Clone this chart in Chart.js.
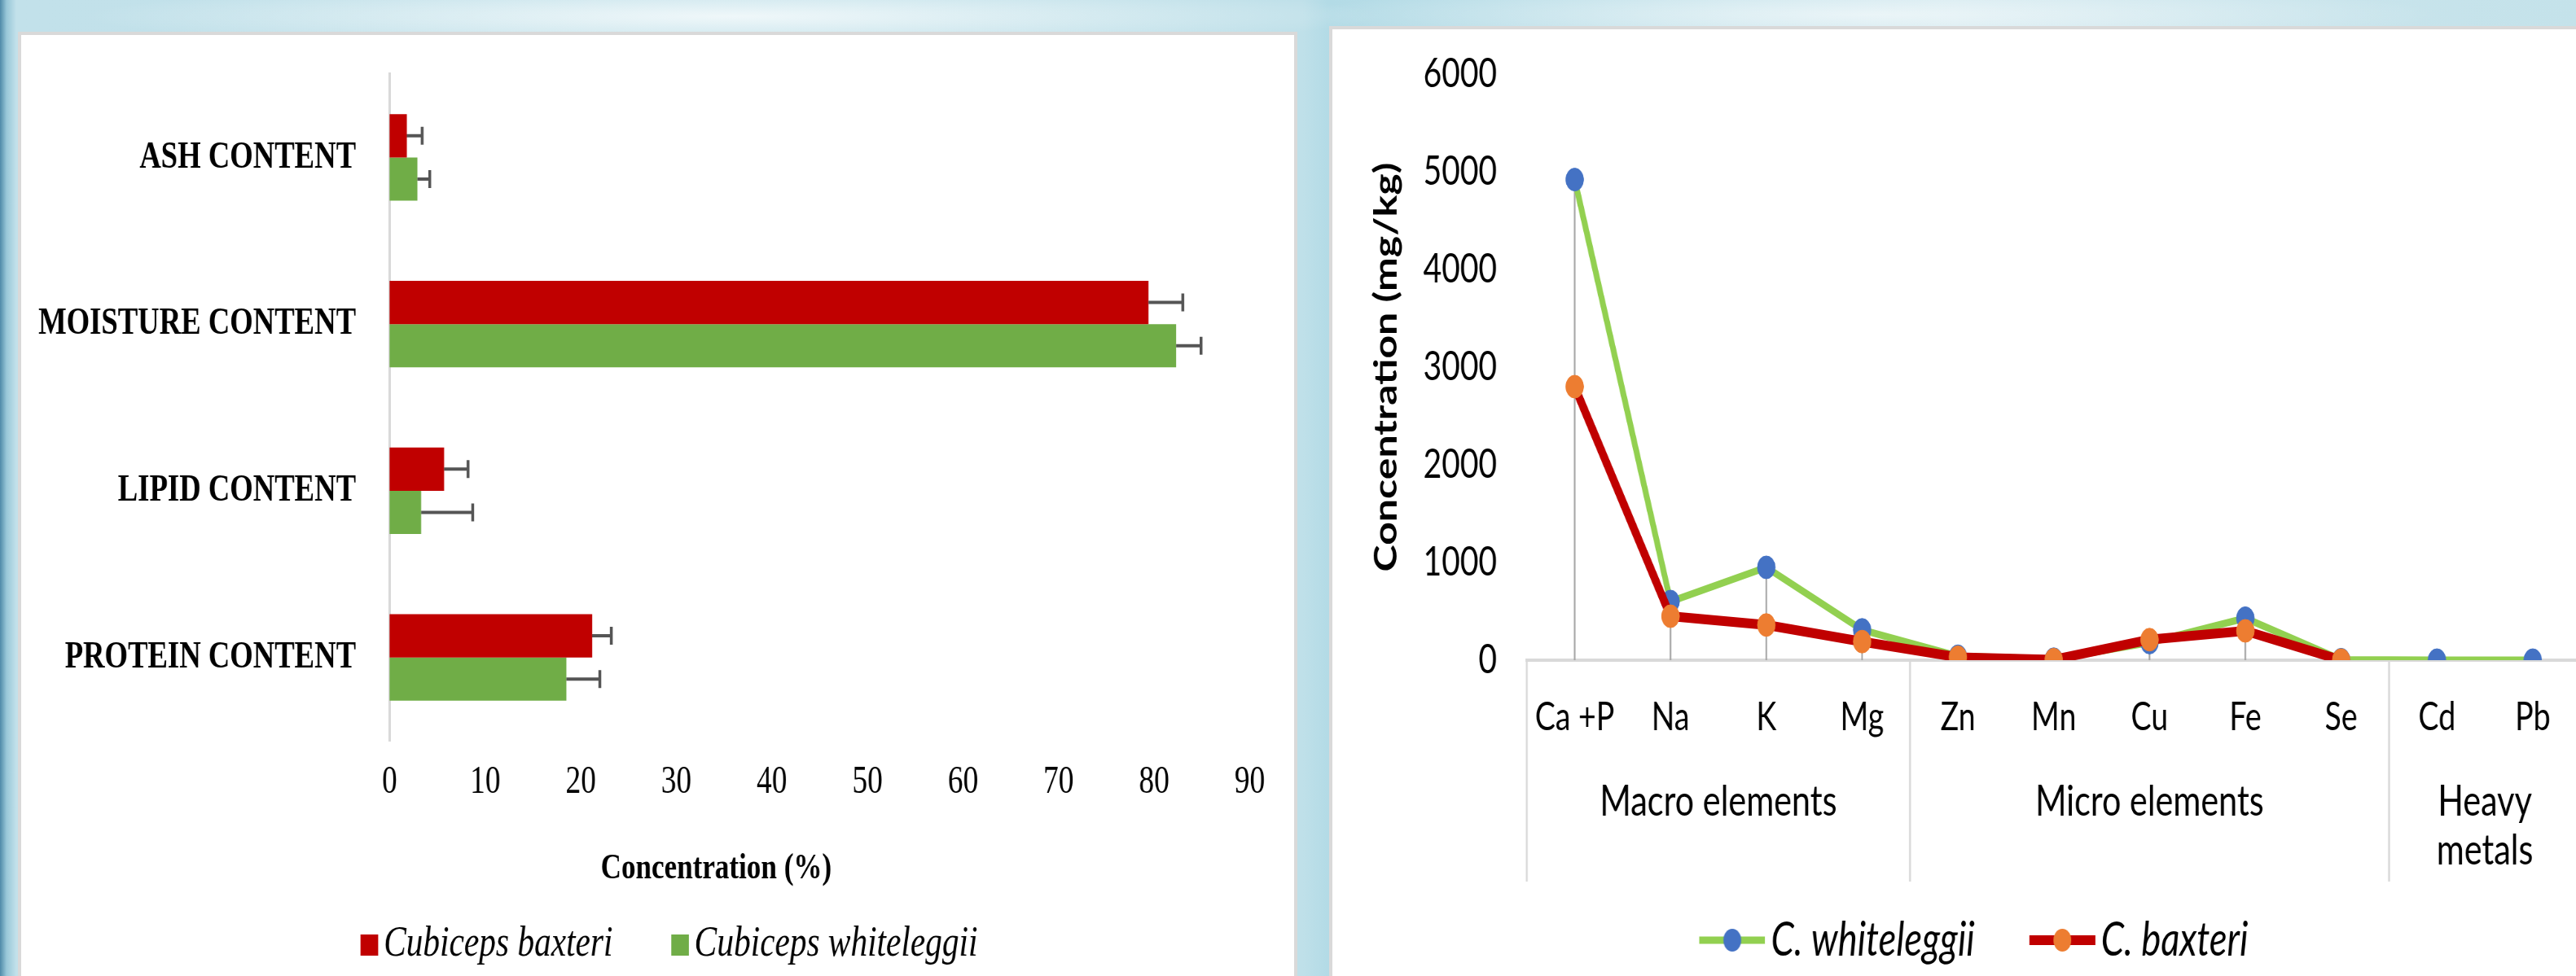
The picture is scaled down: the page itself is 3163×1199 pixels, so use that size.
<!DOCTYPE html>
<html>
<head>
<meta charset="utf-8">
<script src="https://cdn.jsdelivr.net/npm/chart.js@4.4.1/dist/chart.umd.min.js"></script>
<style>
  html, body { margin: 0; padding: 0; }
  body {
    width: 3163px;
    height: 1199px;
    overflow: hidden;
    position: relative;
    background:
      radial-gradient(ellipse 800px 40px at 900px 20px, rgba(255,255,255,0.75), rgba(255,255,255,0)),
      radial-gradient(ellipse 700px 40px at 2300px 18px, rgba(255,255,255,0.6), rgba(255,255,255,0)),
      linear-gradient(90deg, #4f8aa8 0px, #98c7d8 8px, #c2e1ea 20px, #bfe0e9 1600px, #b3dbe6 1630px, #cfe7ee 2400px, #c4e2ea 3163px);
  }
  .panel {
    position: absolute;
    background: #fff;
    border: 4px solid #d9d9d9;
    box-sizing: border-box;
    overflow: hidden;
  }
  #left { left: 22px; top: 39px; width: 1571px; height: 1200px; }
  #right { left: 1632px; top: 32px; width: 1560px; height: 1200px; }
  /* the source picture is stretched vertically; squeeze the drawing sideways to match */
  .squeeze { position: absolute; left: 0; top: 0; transform: scaleX(0.78); transform-origin: 0 0; }
</style>
</head>
<body>
<div class="panel" id="left"><div class="squeeze"><canvas id="proxChart" width="2004" height="1154"></canvas></div></div>
<div class="panel" id="right"><div class="squeeze"><canvas id="mineralChart" width="2050" height="1158"></canvas></div></div>
<script>
// proximate composition (%)
const proxCategories = ['ASH CONTENT', 'MOISTURE CONTENT', 'LIPID CONTENT', 'PROTEIN CONTENT'];
const baxteriProx = [1.8, 79.4, 5.7, 21.2];
const baxteriProxErr = [1.6, 3.6, 2.5, 2.0];
const whiteleggiiProx = [2.9, 82.3, 3.3, 18.5];
const whiteleggiiProxErr = [1.3, 2.6, 5.4, 3.5];
const proxAxisMax = 90;
const proxAxisStep = 10;
const proxAxisTitle = 'Concentration (%)';

// minerals (mg/kg)
const elements = ['Ca +P', 'Na', 'K', 'Mg', 'Zn', 'Mn', 'Cu', 'Fe', 'Se', 'Cd', 'Pb'];
const elementGroups = ['Macro elements', 'Micro elements', ['Heavy', 'metals']];
const groupSizes = [4, 5, 2];
const whiteleggiiMinerals = [4920, 600, 950, 310, 40, 10, 180, 430, 5, 0, 0];
const baxteriMinerals = [2800, 450, 360, 190, 30, 5, 210, 300, 0, null, null];
const mineralAxisMax = 6000;
const mineralAxisStep = 1000;

const serif = 'Liberation Serif';
const sans = 'Lato';

// the legends in the source sit a little right of the canvas centre
const shiftLegend = dx => ({
  id: 'shiftLegend',
  afterLayout(chart) { chart.legend.left += dx; }
});

const errorBars = {
  id: 'errorBars',
  afterDatasetsDraw(chart) {
    const { ctx } = chart;
    const xs = chart.scales.x;
    ctx.save();
    ctx.strokeStyle = '#555';
    chart.data.datasets.forEach((ds, di) => {
      const meta = chart.getDatasetMeta(di);
      meta.data.forEach((bar, i) => {
        const v = ds.data[i];
        const end = xs.getPixelForValue(v + ds.errors[i]);
        const start = xs.getPixelForValue(v);
        ctx.lineWidth = 4;
        ctx.beginPath();
        ctx.moveTo(start, bar.y);
        ctx.lineTo(end, bar.y);
        ctx.stroke();
        ctx.lineWidth = 4.5;
        ctx.beginPath();
        ctx.moveTo(end, bar.y - 11);
        ctx.lineTo(end, bar.y + 11);
        ctx.stroke();
      });
    });
    ctx.restore();
  }
};

const proxTitle = {
  id: 'proxTitle',
  afterDraw(chart) {
    const { ctx, chartArea } = chart;
    ctx.save();
    ctx.fillStyle = '#000';
    ctx.font = `bold 45px "${serif}"`;
    ctx.textAlign = 'center';
    ctx.textBaseline = 'middle';
    ctx.fillText(proxAxisTitle, (chartArea.left + chartArea.right) / 2 - 163, chartArea.bottom + 157);
    ctx.restore();
  }
};

// legend swatches: drawn a bit right of their box so the text sits close
function squareSwatch(color) {
  const c = document.createElement('canvas');
  c.width = 64;
  c.height = 26;
  const g = c.getContext('2d');
  g.fillStyle = color;
  g.fillRect(36, 0, 28, 26);
  return c;
}

function lineSwatch(ds) {
  const c = document.createElement('canvas');
  c.width = 144;
  c.height = 32;
  const g = c.getContext('2d');
  g.strokeStyle = ds.borderColor;
  g.lineWidth = ds.borderWidth;
  g.beginPath();
  g.moveTo(40, 16);
  g.lineTo(144, 16);
  g.stroke();
  g.fillStyle = ds.pointBackgroundColor;
  g.beginPath();
  g.arc(92, 16, 14, 0, Math.PI * 2);
  g.fill();
  return c;
}

new Chart(document.getElementById('proxChart'), {
  type: 'bar',
  data: {
    labels: proxCategories,
    datasets: [
      { label: 'Cubiceps baxteri', data: baxteriProx, errors: baxteriProxErr, backgroundColor: '#C00000' },
      { label: 'Cubiceps whiteleggii', data: whiteleggiiProx, errors: whiteleggiiProxErr, backgroundColor: '#70AD47' }
    ]
  },
  options: {
    indexAxis: 'y',
    responsive: false,
    animation: false,
    datasets: { bar: { categoryPercentage: 0.52, barPercentage: 1 } },
    layout: { padding: { top: 48, right: 70 } },
    scales: {
      x: {
        min: 0,
        max: proxAxisMax,
        grid: { display: false },
        border: { display: false },
        ticks: { stepSize: proxAxisStep, color: '#000', padding: 15, font: { family: serif, size: 48 } },
        afterFit(s) { s.height = 150; }
      },
      y: {
        grid: { display: false },
        border: { color: '#d9d9d9', width: 4 },
        ticks: { color: '#000', padding: 45, font: { family: serif, size: 47, weight: 'bold' } },
        afterFit(s) {
          s.width = 580;
          s.paddingTop = 0;
          s.paddingBottom = 0;
        }
      }
    },
    plugins: {
      legend: {
        position: 'bottom',
        labels: {
          usePointStyle: true,
          pointStyleWidth: 28,
          boxHeight: 26,
          padding: 74,
          color: '#000',
          font: { family: serif, size: 53, style: 'italic' },
          generateLabels(chart) {
            const items = Chart.defaults.plugins.legend.labels.generateLabels(chart);
            items.forEach(it => { it.pointStyle = squareSwatch(chart.data.datasets[it.datasetIndex].backgroundColor); });
            return items;
          }
        }
      },
      tooltip: { enabled: false }
    }
  },
  plugins: [errorBars, proxTitle, shiftLegend(88)]
});

// gray drop lines from the highest point of each category to the axis
const dropLines = {
  id: 'dropLines',
  beforeDatasetsDraw(chart) {
    const { ctx } = chart;
    const { x, y } = chart.scales;
    ctx.save();
    ctx.strokeStyle = '#a6a6a6';
    ctx.lineWidth = 2.5;
    chart.data.labels.forEach((_, i) => {
      const vals = chart.data.datasets.map(ds => ds.data[i]).filter(v => v !== null);
      const top = Math.max(...vals);
      if (top <= 0) return;
      const px = x.getPixelForValue(i);
      ctx.beginPath();
      ctx.moveTo(px, y.getPixelForValue(top));
      ctx.lineTo(px, y.getPixelForValue(0));
      ctx.stroke();
    });
    ctx.restore();
  }
};

// second level of the category axis: group separators and names
const groupAxis = {
  id: 'groupAxis',
  afterDraw(chart) {
    const { ctx } = chart;
    const x = chart.scales.x;
    const n = chart.data.labels.length;
    const edge = b => {
      if (b === 0) return x.left;
      if (b === n) return x.right;
      return (x.getPixelForValue(b - 1) + x.getPixelForValue(b)) / 2;
    };
    const lineTop = x.top;
    const lineBottom = x.top + 272;
    ctx.save();
    ctx.strokeStyle = '#d9d9d9';
    ctx.lineWidth = 3;
    ctx.fillStyle = '#000';
    ctx.font = `53px "${sans}"`;
    ctx.textAlign = 'center';
    ctx.textBaseline = 'middle';
    let b = 0;
    const bounds = [0];
    groupSizes.forEach(sz => { b += sz; bounds.push(b); });
    bounds.forEach(bd => {
      const px = edge(bd);
      ctx.beginPath();
      ctx.moveTo(px, lineTop);
      ctx.lineTo(px, lineBottom);
      ctx.stroke();
    });
    elementGroups.forEach((g, gi) => {
      const cx = (edge(bounds[gi]) + edge(bounds[gi + 1])) / 2;
      const lines = Array.isArray(g) ? g : [g];
      lines.forEach((t, li) => ctx.fillText(t, cx, x.top + 174 + li * 60));
    });
    ctx.restore();
  }
};

new Chart(document.getElementById('mineralChart'), {
  type: 'line',
  data: {
    labels: elements,
    datasets: [
      {
        label: 'C. whiteleggii',
        data: whiteleggiiMinerals,
        borderColor: '#92D050',
        borderWidth: 9,
        pointRadius: 14,
        pointBackgroundColor: '#4472C4',
        pointBorderColor: '#4472C4',
        pointBorderWidth: 1,
        order: 1
      },
      {
        label: 'C. baxteri',
        data: baxteriMinerals,
        borderColor: '#C00000',
        borderWidth: 12,
        pointRadius: 14,
        pointBackgroundColor: '#ED7D31',
        pointBorderColor: '#ED7D31',
        pointBorderWidth: 1,
        order: 0
      }
    ]
  },
  options: {
    responsive: false,
    animation: false,
    layout: { padding: { top: 55, right: 85 } },
    scales: {
      x: {
        offset: true,
        grid: { display: false },
        border: { color: '#d9d9d9', width: 4 },
        ticks: { color: '#000', padding: 34, autoSkip: false, maxRotation: 0, font: { family: sans, size: 48 } },
        afterFit(s) { s.height = 249; }
      },
      y: {
        min: 0,
        max: mineralAxisMax,
        grid: { display: false },
        border: { display: false },
        ticks: {
          stepSize: mineralAxisStep,
          color: '#000',
          padding: 39,
          font: { family: sans, size: 50 },
          callback: v => String(v)
        },
        title: {
          display: true,
          text: 'Concentration (mg/kg)',
          color: '#000',
          font: { family: sans, size: 50, weight: 'bold' },
          padding: { top: 55, bottom: 0 }
        },
        afterFit(s) {
          s.width = 306;
          s.paddingTop = 0;
          s.paddingBottom = 0;
        }
      }
    },
    plugins: {
      legend: {
        position: 'bottom',
        labels: {
          usePointStyle: true,
          pointStyleWidth: 104,
          padding: 66,
          color: '#000',
          font: { family: sans, size: 58, style: 'italic' },
          sort: (a, b) => a.datasetIndex - b.datasetIndex,
          generateLabels(chart) {
            const items = Chart.defaults.plugins.legend.labels.generateLabels(chart);
            items.forEach(it => { it.pointStyle = lineSwatch(chart.data.datasets[it.datasetIndex]); });
            return items;
          }
        }
      },
      tooltip: { enabled: false }
    }
  },
  plugins: [dropLines, groupAxis, shiftLegend(34)]
});
</script>
</body>
</html>
